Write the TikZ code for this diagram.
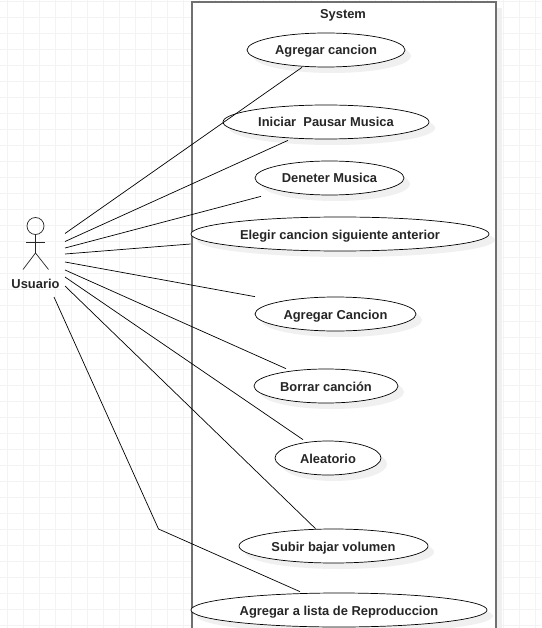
\documentclass[tikz,border=0pt]{standalone}
\usepackage{fontspec}
\setmainfont{Liberation Sans}
\usetikzlibrary{shapes.geometric}
\definecolor{gridc}{HTML}{F3F3F3}
\definecolor{shadc}{HTML}{F0F0F0}
\definecolor{framec}{HTML}{707070}
\tikzset{
  x=1pt,y=-1pt,
  labelfont/.style={font=\fontsize{12.9pt}{14pt}\selectfont\bfseries,text=black!85,text height=11pt,text depth=1pt},
  uc/.style={ellipse,draw=black,line width=0.7pt,fill=white,inner sep=0pt,minimum height=34pt,labelfont},
  ucshadow/.style={ellipse,fill=shadc,inner sep=0pt,minimum height=34pt},
  link/.style={draw=black,line width=0.7pt},
  stick/.style={draw=black!85,line width=0.7pt},
}
\newcommand{\usecase}[5]{%
  \node[ucshadow,minimum width=#4pt] at (#2+6,#3+6) {};
  \node[uc,minimum width=#4pt] (#1) at (#2,#3) {#5};
}
\begin{document}
\begin{tikzpicture}
\useasboundingbox (0,0) rectangle (541,628);
\fill[white] (0,0) rectangle (541,628);
\foreach \i in {0,...,33}{\draw[gridc,line width=0.9pt] (7.5+16*\i,0) -- (7.5+16*\i,628);}
\foreach \i in {0,...,39}{\draw[gridc,line width=0.9pt] (0,1.5+16*\i) -- (541,1.5+16*\i);}
\fill[shadc] (197,8) rectangle (502,628);
\node[draw=framec,fill=white,line width=2pt,minimum width=304pt,minimum height=640pt,inner sep=0pt,anchor=north west] (sys) at (190.8,0.6) {};
\node[labelfont] (systitle) at (343,14) {System};
\usecase{e1}{326}{50}{158}{Agregar cancion}
\usecase{e2}{326}{122}{206}{Iniciar\ \ Pausar Musica}
\usecase{e3}{329.5}{178}{149}{Deneter Musica}
\usecase{e4}{340}{234}{298}{Elegir cancion siguiente anterior}
\usecase{e5}{335.5}{314}{161}{Agregar Cancion}
\usecase{e6}{326}{386}{144}{Borrar canción}
\usecase{e7}{328}{458}{106}{Aleatorio}
\usecase{e8}{333.5}{546}{189}{Subir bajar volumen}
\usecase{e9}{339}{610}{296}{Agregar a lista de Reproduccion}
% actor
\node[circle,draw=black!85,line width=0.7pt,minimum size=17pt,inner sep=0pt] (head) at (35.5,226) {};
\coordinate (hip) at (35.5,253);
\coordinate (armL) at (26,242);
\coordinate (armR) at (45,242);
\coordinate (footL) at (23,269.5);
\coordinate (footR) at (48.5,269.5);
\draw[stick] (head.south) -- (hip);
\draw[stick] (armL) -- (armR);
\draw[stick] (footL) -- (hip) -- (footR);
\node[labelfont] (actor) at (35.5,283) {Usuario};
\foreach \n/\yy in {a1/233.5,a2/241.5,a3/248,a4/254,a5/262,a6/270,a7/277,a8/286}{
  \coordinate (\n) at (65,\yy);
}
\coordinate (a9) at (54,297);
\coordinate (bend) at (158.5,529);
\draw[link] (a1) -- ([xshift=-24pt]e1.south);
\draw[link] (a2) -- ([xshift=-38pt,yshift=-1pt]e2.south);
\draw[link] (a3) -- ([xshift=-68.5pt,yshift=-1pt]e3.south);
\draw[link] (a4) -- ([yshift=-10pt]e4.west);
\draw[link] (a5) -- ([xshift=-80.5pt]e5.north);
\draw[link] (a6) -- ([xshift=-40pt]e6.north);
\draw[link] (a7) -- ([xshift=-25pt,yshift=1pt]e7.north);
\draw[link] (a8) -- ([xshift=-18pt]e8.north);
\draw[link] (a9) -- (bend) -- ([xshift=-39pt,yshift=1pt]e9.north);
\end{tikzpicture}
\end{document}
